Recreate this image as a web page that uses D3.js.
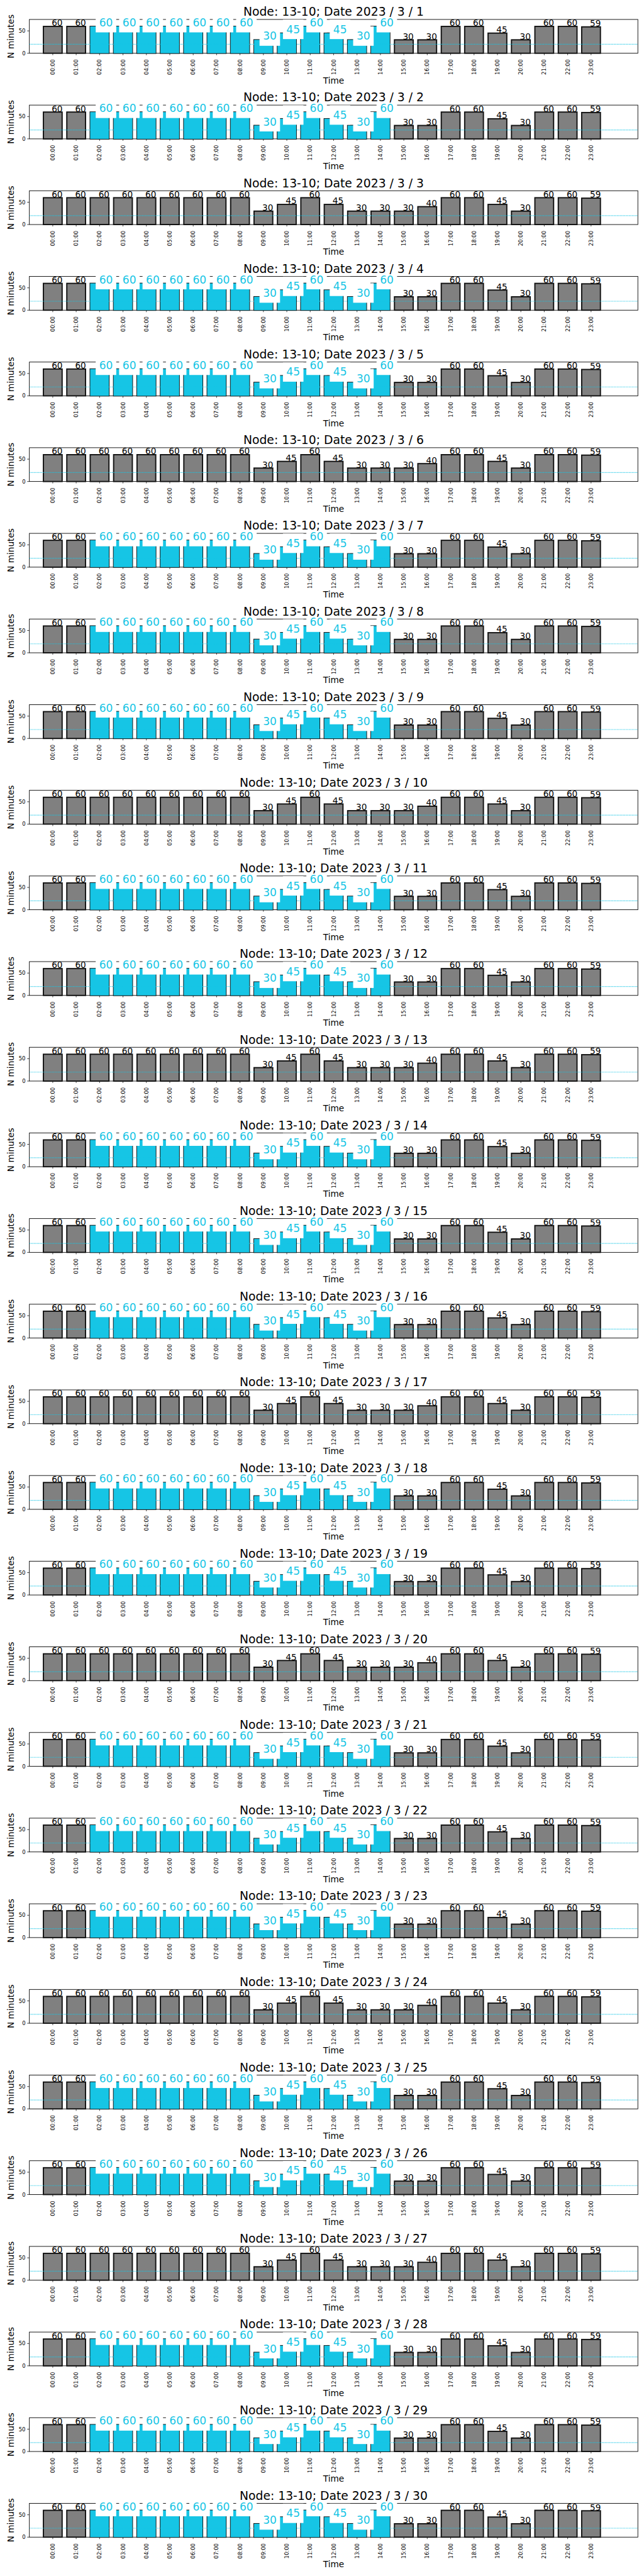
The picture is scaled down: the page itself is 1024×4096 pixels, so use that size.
<!DOCTYPE html>
<html><head><meta charset="utf-8">
<script src="https://cdn.jsdelivr.net/npm/d3@7"></script>
<style>body{margin:0;background:#fff}svg{display:block}</style>
</head><body>
<script>
// ---------- data ----------
const hours = ["00:00","01:00","02:00","03:00","04:00","05:00","06:00","07:00","08:00","09:00","10:00","11:00",
               "12:00","13:00","14:00","15:00","16:00","17:00","18:00","19:00","20:00","21:00","22:00","23:00"];
const days = [1,2,3,4,5,6,7,8,9,10,11,12,13,14,15,16,17,18,19,20,21,22,23,24,25,26,27,28,29,30];
// which pattern each day follows (A = with highlighted hours, B = plain)
const dayPattern = ["A","A","B","A","A","B","A","A","A","B","A","A","B","A","A","A","B","A","A","B","A","A","A","B","A","A","B","A","A","A"];
const valuesA = [60,60,60,60,60,60,60,60,60,30,45,60,45,30,60,30,30,60,60,45,30,60,60,59];
const valuesB = [60,60,60,60,60,60,60,60,60,30,45,60,45,30,30,30,40,60,60,45,30,60,60,59];
const highlightHoursA = ["02:00","03:00","04:00","05:00","06:00","07:00","08:00","09:00","10:00","11:00","12:00","13:00","14:00"];
const highlightHoursB = [];
const thresholdValue = 20;
const yTickValues = [0, 50];
const yMax = 75.6;
const nodeName = "13-10";

// ---------- layout (reference px) ----------
const S = 1024 / 1500;
const left = 68.4, right = 1485.7, top0 = 45.3, axH = 78.7, pitch = 199.5;
const FONT = "DejaVu Sans";
const CYAN = "#16c5e5";

const svg = d3.select("body").append("svg").attr("width", 1024).attr("height", 4096);
const root = svg.append("g").attr("transform", `scale(${S})`);

const x = d3.scaleLinear().domain([-1, 25]).range([left, right]);
const bw = x(0.8) - x(0);

days.forEach((day, k) => {
  const pat = dayPattern[k];
  const vals = pat === "A" ? valuesA : valuesB;
  const hl = new Set(pat === "A" ? highlightHoursA : highlightHoursB);
  const top = top0 + k * pitch, bottom = top + axH;
  const y = d3.scaleLinear().domain([0, yMax]).range([bottom, top]);
  const ax = root.append("g");

  // frame
  ax.append("rect").attr("x", left).attr("y", top).attr("width", right - left).attr("height", axH)
    .attr("fill", "none").attr("stroke", "#000").attr("stroke-width", 1.3);

  // x ticks
  hours.forEach((h, i) => {
    ax.append("line").attr("x1", x(i)).attr("x2", x(i)).attr("y1", bottom).attr("y2", bottom + 4.5)
      .attr("stroke", "#000").attr("stroke-width", 1.1);
    ax.append("text").attr("transform", `translate(${x(i) + 4.5},${bottom + 14.3}) rotate(-90)`)
      .attr("text-anchor", "end").attr("font-family", FONT).attr("font-size", 12.5).text(h);
  });
  // y ticks
  yTickValues.forEach(v => {
    ax.append("line").attr("x1", left - 5).attr("x2", left).attr("y1", y(v)).attr("y2", y(v))
      .attr("stroke", "#000").attr("stroke-width", 1.1);
    ax.append("text").attr("x", left - 9).attr("y", y(v)).attr("dy", "0.36em")
      .attr("text-anchor", "end").attr("font-family", FONT).attr("font-size", 12.5).text(v);
  });

  // gray bars
  ax.selectAll("rect.bar").data(vals).enter().append("rect").attr("class", "bar")
    .attr("x", (d, i) => x(i) - bw / 2).attr("y", d => y(d))
    .attr("width", bw).attr("height", d => bottom - y(d))
    .attr("fill", "#808080").attr("stroke", "#111").attr("stroke-width", 2.8);
  // highlighted bars
  ax.selectAll("rect.hl").data(vals.map((v, i) => ({v, i})).filter(d => hl.has(hours[d.i])))
    .enter().append("rect").attr("class", "hl")
    .attr("x", d => x(d.i) - bw / 2).attr("y", d => y(d.v))
    .attr("width", bw).attr("height", d => bottom - y(d.v)).attr("fill", CYAN);

  // dotted threshold line
  ax.append("line").attr("x1", left).attr("x2", right).attr("y1", y(thresholdValue)).attr("y2", y(thresholdValue))
    .attr("stroke", CYAN).attr("stroke-width", 1.7).attr("stroke-dasharray", "1.7,1.8");

  // labels
  vals.forEach((v, i) => {
    if (!hl.has(hours[i])) {
      ax.append("text").attr("x", x(i) - 2.5).attr("y", y(v) - 1)
        .attr("font-family", FONT).attr("font-size", 20).attr("fill", "#000").text(v);
    } else {
      const grp = ax.append("g");
      const box = grp.append("rect").attr("fill", "#fff");
      const t = grp.append("text").attr("x", x(i) - 1).attr("y", y(v))
        .attr("font-family", FONT).attr("font-size", 25).attr("fill", CYAN).text(v);
      const bb = t.node().getBBox();
      const pad = 8;
      box.attr("x", bb.x - pad).attr("y", bb.y - pad).attr("width", bb.width + 2 * pad).attr("height", bb.height + 2 * pad);
    }
  });

  // axis labels and title
  ax.append("text").attr("transform", `translate(31.5,${top + axH / 2}) rotate(-90)`)
    .attr("text-anchor", "middle").attr("font-family", FONT).attr("font-size", 20).text("N minutes");
  ax.append("text").attr("x", (left + right) / 2).attr("y", bottom + 70.5)
    .attr("text-anchor", "middle").attr("font-family", FONT).attr("font-size", 20).text("Time");
  ax.append("text").attr("x", (left + right) / 2).attr("y", top - 8.3)
    .attr("text-anchor", "middle").attr("font-family", FONT).attr("font-size", 27.5)
    .text(`Node: ${nodeName}; Date 2023 / 3 / ${day}`);
});
</script>
</body></html>
